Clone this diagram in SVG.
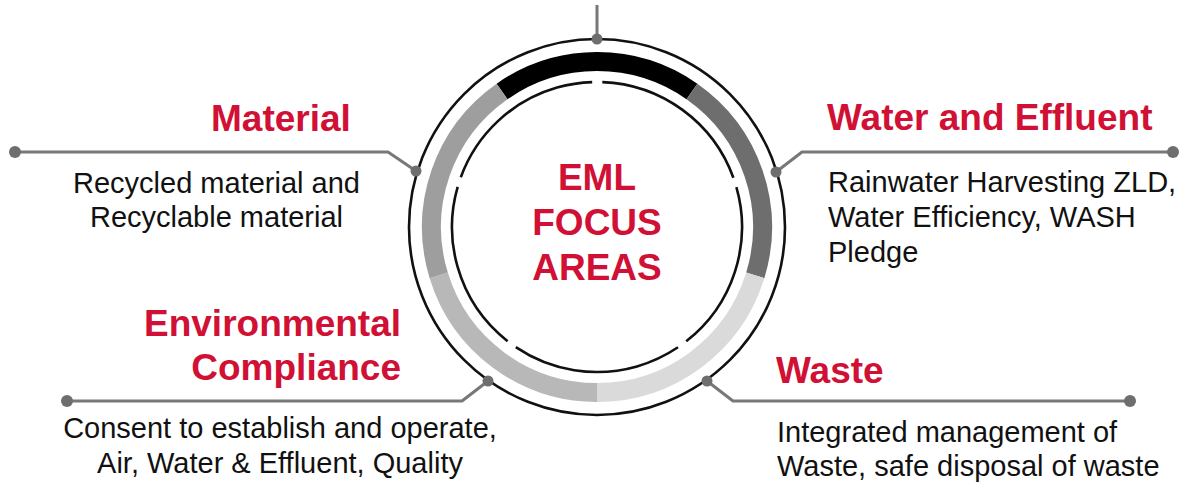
<svg xmlns="http://www.w3.org/2000/svg" width="1182" height="484" viewBox="0 0 1182 484">
<style>
.title{font-family:"Liberation Sans",Arial,sans-serif;font-weight:bold;font-size:37px;fill:#d01034}
.center{font-family:"Liberation Sans",Arial,sans-serif;font-weight:bold;font-size:37px;fill:#d01034;text-anchor:middle}
.body{font-family:"Liberation Sans",Arial,sans-serif;font-size:29px;fill:#111}
.conn{fill:none;stroke:#787878;stroke-width:3;stroke-linejoin:round}
.dot{fill:#6e6e6e}
.band{fill:none;stroke-width:19}
</style>
<rect width="1182" height="484" fill="#fff"/>
<g id="ring">
  <circle cx="597" cy="227" r="188" fill="none" stroke="#111" stroke-width="2.6"/>
  <path class="band" stroke="#000" d="M502.07 91.43 A165.5 165.5 0 0 1 691.93 91.43"/>
  <path class="band" stroke="#6e6e6e" d="M691.93 91.43 A165.5 165.5 0 0 1 755.27 275.39"/>
  <path class="band" stroke="#dadada" d="M755.27 275.39 A165.5 165.5 0 0 1 597 392.5"/>
  <path class="band" stroke="#b8b8b8" d="M597 392.5 A165.5 165.5 0 0 1 438.73 275.39"/>
  <path class="band" stroke="#9e9e9e" d="M438.73 275.39 A165.5 165.5 0 0 1 502.07 91.43"/>
  <circle cx="597" cy="227" r="145" fill="none" stroke="#111" stroke-width="2.6" stroke-dasharray="172.09 10.12" transform="rotate(-16 597 227)"/>
</g>
<g id="connectors">
  <path class="conn" d="M597 5 V39"/>
  <path class="conn" d="M15 152 H388 L416 171"/>
  <path class="conn" d="M1173 152 H802 L776 172"/>
  <path class="conn" d="M67 401 H462 L488 381"/>
  <path class="conn" d="M1130 401 H733 L707 381"/>
  <circle class="dot" cx="597" cy="39" r="5.5"/>
  <circle class="dot" cx="416" cy="171" r="5.5"/>
  <circle class="dot" cx="776" cy="172" r="5.5"/>
  <circle class="dot" cx="488" cy="381" r="5.5"/>
  <circle class="dot" cx="707" cy="381" r="5.5"/>
  <circle class="dot" cx="15" cy="152" r="6"/>
  <circle class="dot" cx="1173" cy="152" r="6"/>
  <circle class="dot" cx="67" cy="401" r="6"/>
  <circle class="dot" cx="1130" cy="401" r="6"/>
</g>
<g id="center">
  <text class="center" x="597" y="190">EML</text>
  <text class="center" x="597" y="235">FOCUS</text>
  <text class="center" x="597" y="280">AREAS</text>
</g>
<g id="material">
  <text class="title" x="211" y="131">Material</text>
  <text class="body" x="216.5" y="193" text-anchor="middle">Recycled material and</text>
  <text class="body" x="216.5" y="227" text-anchor="middle">Recyclable material</text>
</g>
<g id="water">
  <text class="title" x="827" y="130">Water and Effluent</text>
  <text class="body" x="828" y="192">Rainwater Harvesting ZLD,</text>
  <text class="body" x="828" y="227">Water Efficiency, WASH</text>
  <text class="body" x="828" y="262">Pledge</text>
</g>
<g id="environmental">
  <text class="title" x="401" y="336" text-anchor="end">Environmental</text>
  <text class="title" x="401" y="380" text-anchor="end">Compliance</text>
  <text class="body" x="280" y="438" text-anchor="middle">Consent to establish and operate,</text>
  <text class="body" x="280" y="473" text-anchor="middle">Air, Water &amp; Effluent, Quality</text>
</g>
<g id="waste">
  <text class="title" x="776" y="383">Waste</text>
  <text class="body" x="777" y="442">Integrated management of</text>
  <text class="body" x="777" y="476">Waste, safe disposal of waste</text>
</g>
</svg>
